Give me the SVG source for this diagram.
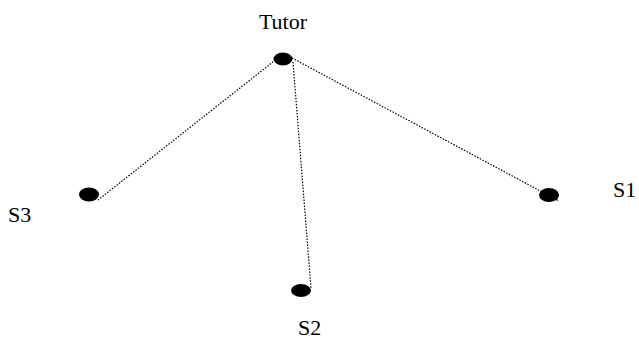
<svg xmlns="http://www.w3.org/2000/svg" width="639" height="342" viewBox="0 0 639 342">
<style>
.lbl{font-family:"Liberation Serif","Times New Roman",serif;font-size:22px;fill:#000}
.dot{fill:#000}
.con{stroke:#000;stroke-width:1.2;stroke-dasharray:1.5 1.5;fill:none}
</style>
<rect width="639" height="342" fill="#fff"/>
<g id="connectors">
<line class="con" x1="278" y1="58" x2="98" y2="200"/>
<line class="con" x1="293" y1="62" x2="311" y2="288"/>
<line class="con" x1="292" y1="58" x2="559" y2="201"/>
</g>
<g id="tutor">
<ellipse class="dot" cx="283" cy="59" rx="9.5" ry="6.5"/>
<text class="lbl" x="283" y="29" text-anchor="middle">Tutor</text>
</g>
<g id="s3">
<ellipse class="dot" cx="89" cy="194.5" rx="10" ry="7"/>
<text class="lbl" x="8" y="222">S3</text>
</g>
<g id="s1">
<ellipse class="dot" cx="549" cy="195" rx="10" ry="7"/>
<text class="lbl" x="613" y="197">S1</text>
</g>
<g id="s2">
<ellipse class="dot" cx="301" cy="290.5" rx="10" ry="6.5"/>
<text class="lbl" x="298" y="335">S2</text>
</g>
</svg>
